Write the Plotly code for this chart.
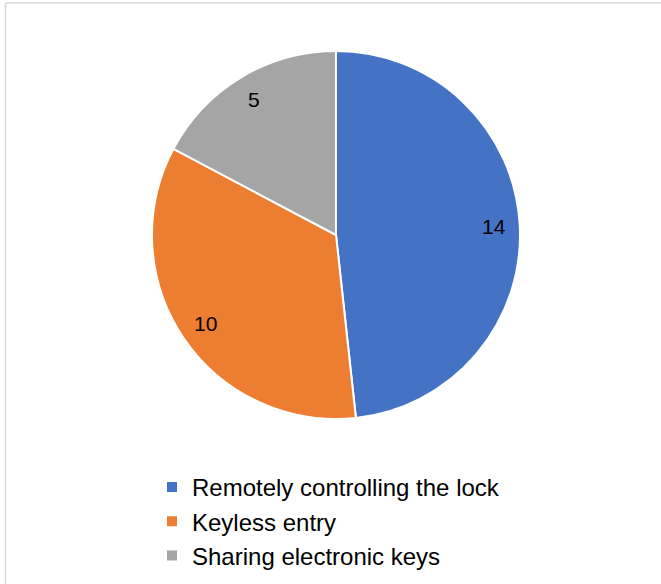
import math
import plotly.graph_objects as go

categories = ["Remotely controlling the lock", "Keyless entry", "Sharing electronic keys"]
values = [14, 10, 5]
colors = ["#4472C4", "#ED7D31", "#A5A5A5"]

W, H = 661, 584
CX, CY, R = 336, 235, 184  # pie centre / radius in pixels
LABEL_FRAC = 0.86

fig = go.Figure(go.Pie(
    labels=categories,
    values=values,
    sort=False,
    direction="clockwise",
    rotation=0,
    marker=dict(colors=colors, line=dict(color="white", width=2)),
    textinfo="none",
    domain=dict(x=[(CX - R) / W, (CX + R) / W], y=[1 - (CY + R) / H, 1 - (CY - R) / H]),
    hoverinfo="label+value",
))

# value labels placed along each slice's mid-angle
total = sum(values)
annotations = []
cum = 0
for v in values:
    mid = (cum + v / 2) / total * 2 * math.pi
    cum += v
    px = CX + LABEL_FRAC * R * math.sin(mid)
    py = CY - LABEL_FRAC * R * math.cos(mid)
    annotations.append(dict(
        x=px / W, y=1 - py / H, xref="paper", yref="paper",
        text=str(v), showarrow=False, xanchor="center", yanchor="middle",
        font=dict(family="Liberation Sans, Arial, sans-serif", size=21, color="black"),
    ))

fig.update_layout(
    width=W, height=H,
    margin=dict(l=0, r=0, t=0, b=0),
    paper_bgcolor="white",
    plot_bgcolor="white",
    showlegend=True,
    annotations=annotations,
    legend=dict(
        x=152 / W, y=1 - 465 / H, xanchor="left", yanchor="top",
        font=dict(family="Liberation Sans, Arial, sans-serif", size=24, color="black"),
        bgcolor="rgba(0,0,0,0)",
    ),
    shapes=[
        dict(type="line", xref="paper", yref="paper", x0=5.5 / W, x1=1.02, y0=1 - 3 / H, y1=1 - 3 / H,
             line=dict(color="#D9D9D9", width=1.5)),
        dict(type="line", xref="paper", yref="paper", x0=5.5 / W, x1=5.5 / W, y0=1 - 3 / H, y1=-0.02,
             line=dict(color="#D9D9D9", width=1.5)),
    ],
)

fig.write_html(
    "out.html",
    config={"displayModeBar": False},
    post_script="document.body.style.margin='0';document.body.style.overflow='hidden';",
)
